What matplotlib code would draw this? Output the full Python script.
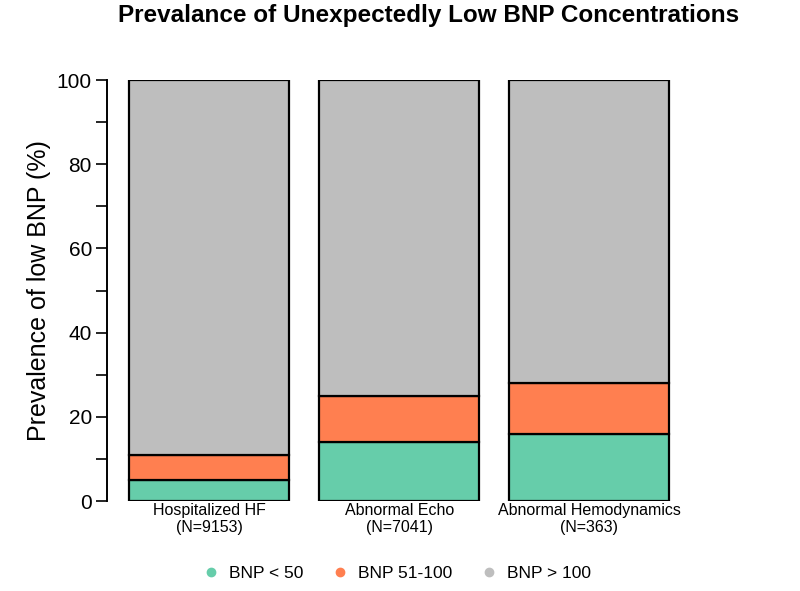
import matplotlib
matplotlib.use("Agg")
import matplotlib.pyplot as plt
import numpy as np

plt.rcParams['font.family'] = ['Liberation Sans', 'DejaVu Sans']

categories = ["Hospitalized HF\n(N=9153)", "Abnormal Echo\n(N=7041)", "Abnormal Hemodynamics\n(N=363)"]
bnp_lt50 = [5, 14, 16]
bnp_51_100 = [6, 11, 12]
bnp_gt100 = [89, 75, 72]
series_labels = ["BNP < 50", "BNP 51-100", "BNP > 100"]
colors = ["#66CDAA", "#FF7F50", "#BEBEBE"]

fig = plt.figure(figsize=(8, 5.91), dpi=100)
ax = fig.add_axes([0.134, 0.152, 0.866, 0.7126])

x = np.arange(1, len(categories) + 1)
width = 0.84
bottom = np.zeros(len(categories))
handles = []
for vals, lab, col in zip([bnp_lt50, bnp_51_100, bnp_gt100], series_labels, colors):
    ax.bar(x, vals, width=width, bottom=bottom, color=col, edgecolor="black", linewidth=1.6, zorder=2)
    bottom += np.array(vals)
    handles.append(plt.Line2D([], [], marker='o', linestyle='none', markersize=6,
                              markerfacecolor=col, markeredgecolor=col, label=lab))

ax.set_xlim(0.463, 4.11)
ax.set_ylim(0, 100)
ax.set_yticks([0, 20, 40, 60, 80, 100])
ax.set_yticks([10, 30, 50, 70, 90], minor=True)
ax.tick_params(axis='y', which='both', length=8, width=1.2, labelsize=15, pad=3)
ax.set_xticks(x)
ax.set_xticklabels(categories, fontsize=11.5, linespacing=1.2)
ax.tick_params(axis='x', length=0, pad=1)
for s in ['top', 'right', 'bottom']:
    ax.spines[s].set_visible(False)
ax.spines['left'].set_linewidth(1.4)
ax.set_ylabel("Prevalence of low BNP (%)", fontsize=18, labelpad=4)

fig.suptitle("Prevalance of Unexpectedly Low BNP Concentrations", fontsize=17.5,
             fontweight='bold', x=0.536, y=0.993)

fig.legend(handles=handles, loc='center', bbox_to_anchor=(0.496, 0.03), ncol=3,
           frameon=False, fontsize=12.5, handlelength=1.0, handletextpad=0.55,
           columnspacing=1.6)

fig.savefig("out.png", dpi=100)
